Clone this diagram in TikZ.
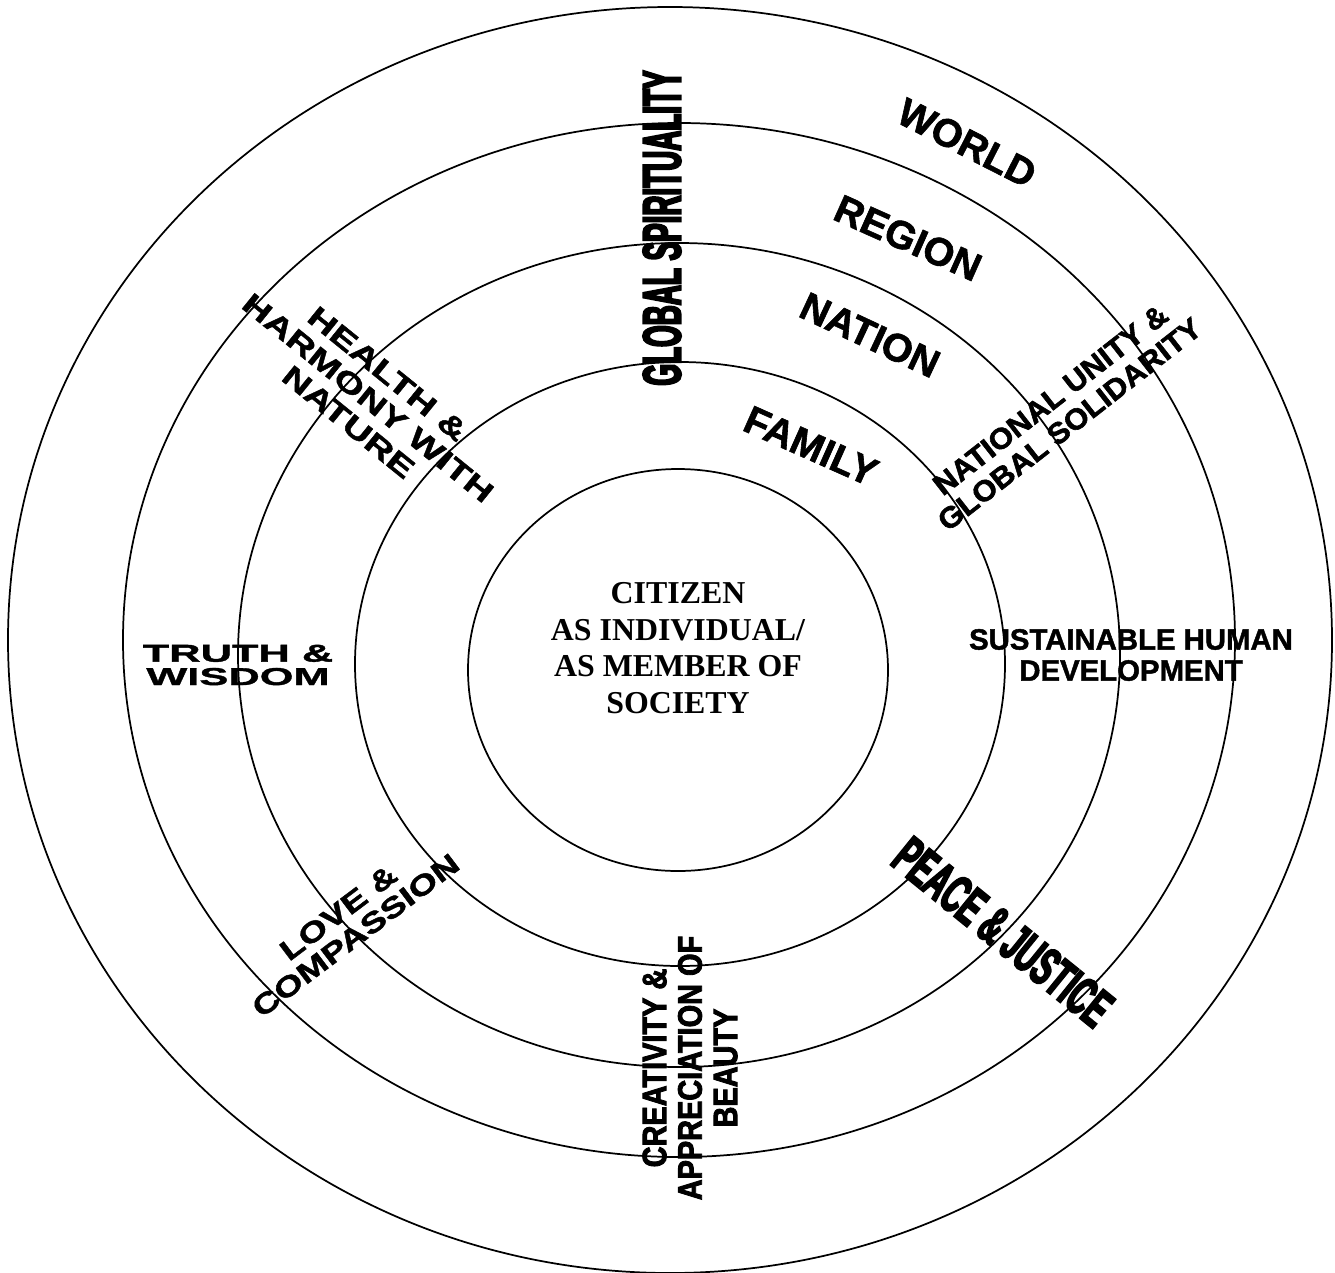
\documentclass[tikz,border=0pt]{standalone}
\usepackage{fontspec}
\setmainfont{Liberation Serif}
% faces for the ring labels
\newfontface\fCitizen{Liberation Serif Bold}
\newfontface\fPlain[FakeBold=1.5]{Liberation Sans Bold}
\newfontface\fNarrow[FakeStretch=0.515,FakeBold=3.5]{Liberation Sans Bold}
\newfontface\fPeace[FakeStretch=0.545,FakeBold=3.5]{Liberation Sans Bold}
\newfontface\fCreative[FakeStretch=0.85,FakeBold=2.5]{Liberation Sans Bold}
\newfontface\fUnity[FakeStretch=1.05,FakeBold=2]{Liberation Sans Bold}
\newfontface\fHealth[FakeStretch=1.35,FakeBold=1.5]{Liberation Sans Bold}
\newfontface\fLove[FakeStretch=1.3,FakeBold=1.5]{Liberation Sans Bold}
\newfontface\fTruth[FakeStretch=1.78,FakeBold=1.5]{Liberation Sans Bold}

\tikzset{
  ring/.style={draw=black, line width=1.3pt},
  lbl/.style={inner sep=0pt, align=center, text=black},
  levelword/.style={lbl, font={\fPlain\fontsize{29.6}{31}\selectfont}},
}

\begin{document}
\begin{tikzpicture}[x=0.75pt, y=-0.75pt]
\useasboundingbox (0,0) rectangle (1335,1272);

% concentric rings, outermost first
\draw[ring] (670,640) ellipse [x radius=662, y radius=633];
\draw[ring] (679,640) ellipse [x radius=556, y radius=517];
\draw[ring] (679,655) ellipse [x radius=441, y radius=412];
\draw[ring] (680,664) ellipse [x radius=325, y radius=302];
\draw[ring] (678,670) ellipse [x radius=210, y radius=201];

% core
\node[lbl, font={\fCitizen\fontsize{23.9}{27.5}\selectfont}] (citizen) at (678,648)
  {CITIZEN\\AS INDIVIDUAL/\\AS MEMBER OF\\SOCIETY};

% levels
\node[levelword, rotate=-27] (world)  at (967,143) {WORLD};
\node[levelword, rotate=-24] (region) at (908,238) {REGION};
\node[levelword, rotate=-25] (nation) at (870,335) {NATION};
\node[levelword, rotate=-24] (family) at (811,446) {FAMILY};

% values around the rings
\node[lbl, rotate=90, font={\fNarrow\fontsize{40.5}{42}\selectfont}] (spirit) at (662,228)
  {GLOBAL SPIRITUALITY};
\node[lbl, rotate=38, font={\fUnity\fontsize{22}{23.3}\selectfont}] (unity) at (1060,412)
  {NATIONAL UNITY \&\\GLOBAL SOLIDARITY};
\node[lbl, font={\fPlain\fontsize{22}{23.3}\selectfont}] (sustain) at (1131,655)
  {SUSTAINABLE HUMAN\\DEVELOPMENT};
\node[lbl, rotate=-39, font={\fPeace\fontsize{40.5}{42}\selectfont}] (peace) at (1003,932)
  {PEACE \& JUSTICE};
\node[lbl, rotate=90, font={\fCreative\fontsize{25.5}{26.6}\selectfont}] (creative) at (690,1068)
  {CREATIVITY \&\\APPRECIATION OF\\BEAUTY};
\node[lbl, rotate=37, font={\fLove\fontsize{21.4}{21.5}\selectfont}] (love) at (347,924)
  {LOVE \&\\COMPASSION};
\node[lbl, font={\fTruth\fontsize{18.3}{17.5}\selectfont}] (truth) at (238,665)
  {TRUTH \&\\WISDOM};
\node[lbl, rotate=-39, font={\fHealth\fontsize{21.75}{23.3}\selectfont}] (health) at (368,398)
  {HEALTH \&\\HARMONY WITH\\NATURE};
\end{tikzpicture}
\end{document}
